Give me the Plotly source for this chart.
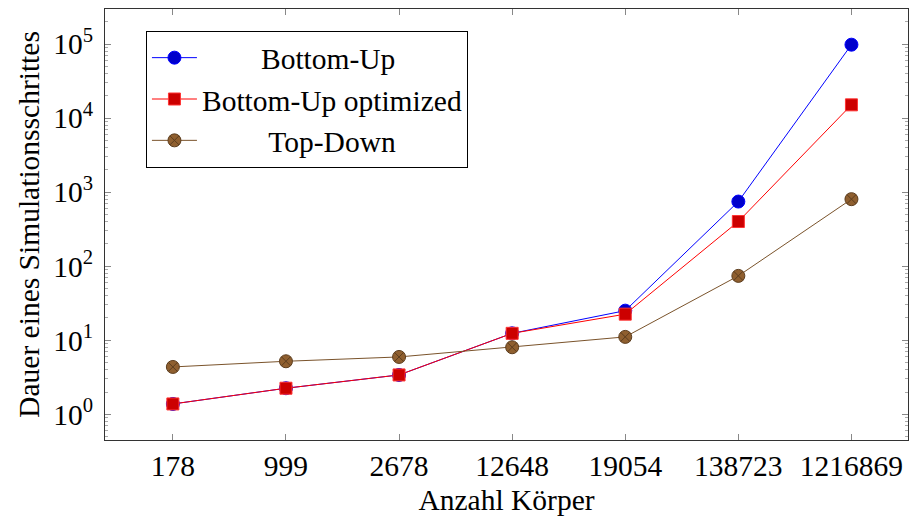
import plotly.graph_objects as go

categories = ["178", "999", "2678", "12648", "19054", "138723", "1216869"]
bottom_up = [1.38, 2.25, 3.4, 12.4, 25.1, 746, 98000]
bottom_up_opt = [1.38, 2.25, 3.4, 12.4, 22.5, 401, 15100]
top_down = [4.36, 5.2, 5.95, 8.04, 11.1, 74, 804]
series_names = ["Bottom-Up", "Bottom-Up optimized", "Top-Down"]

ytick_vals = [1, 10, 100, 1000, 10000, 100000]
ytick_text = ["10<sup>0</sup>", "10<sup>1</sup>", "10<sup>2</sup>",
              "10<sup>3</sup>", "10<sup>4</sup>", "10<sup>5</sup>"]

FONT = "Liberation Serif"
FS = 29.5
NB = "\u00a0"
# leading padding so the legend labels appear centred as in the reference
pads = [8, 0, 9]

fig = go.Figure()
fig.add_trace(go.Scatter(
    x=categories, y=bottom_up, name=NB * pads[0] + series_names[0], mode="lines+markers",
    line=dict(color="#0000ff", width=1),
    marker=dict(symbol="circle", size=13, color="#0000cc",
                line=dict(color="#0000ff", width=1))))
fig.add_trace(go.Scatter(
    x=categories, y=bottom_up_opt, name=NB * pads[1] + series_names[1], mode="lines+markers",
    line=dict(color="#ff0000", width=1),
    marker=dict(symbol="square", size=12, color="#cc0000",
                line=dict(color="#ff3333", width=1))))
fig.add_trace(go.Scatter(
    x=categories, y=top_down, name=NB * pads[2] + series_names[2], mode="lines+markers",
    line=dict(color="#7a532b", width=1),
    marker=dict(symbol="circle-x", size=13, color="#8f5f2f",
                line=dict(color="#5c3d1e", width=1))))

fig.update_layout(
    width=911, height=516,
    margin=dict(l=105, r=3, t=9, b=76),
    paper_bgcolor="white", plot_bgcolor="white",
    font=dict(family=FONT, size=FS, color="black"),
    showlegend=True,
    legend=dict(x=0.051, y=0.949, xanchor="left", yanchor="top",
                bordercolor="black", borderwidth=1, bgcolor="white",
                font=dict(family=FONT, size=FS), itemwidth=45,
                tracegroupgap=0),
    xaxis=dict(type="category", range=[-0.6, 6.5],
               showline=True, linecolor="#333", linewidth=1, mirror="ticks",
               ticks="inside", ticklen=6, tickcolor="#888",
               showgrid=False, zeroline=False,
               title=dict(text="Anzahl Körper", standoff=10,
                          font=dict(family=FONT, size=FS))),
    yaxis=dict(type="log", range=[-0.347, 5.473],
               tickvals=ytick_vals, ticktext=ytick_text,
               ticklabelstandoff=5,
               showline=True, linecolor="#333", linewidth=1, mirror="ticks",
               ticks="inside", ticklen=6, tickcolor="#888",
               minor=dict(ticks="inside", ticklen=3, tickcolor="#aaa", dtick="D1",
                          showgrid=False),
               showgrid=False, zeroline=False,
               title=dict(text="Dauer eines Simulationsschrittes", standoff=4,
                          font=dict(family=FONT, size=FS))),
)

fig.write_html("out.html")
